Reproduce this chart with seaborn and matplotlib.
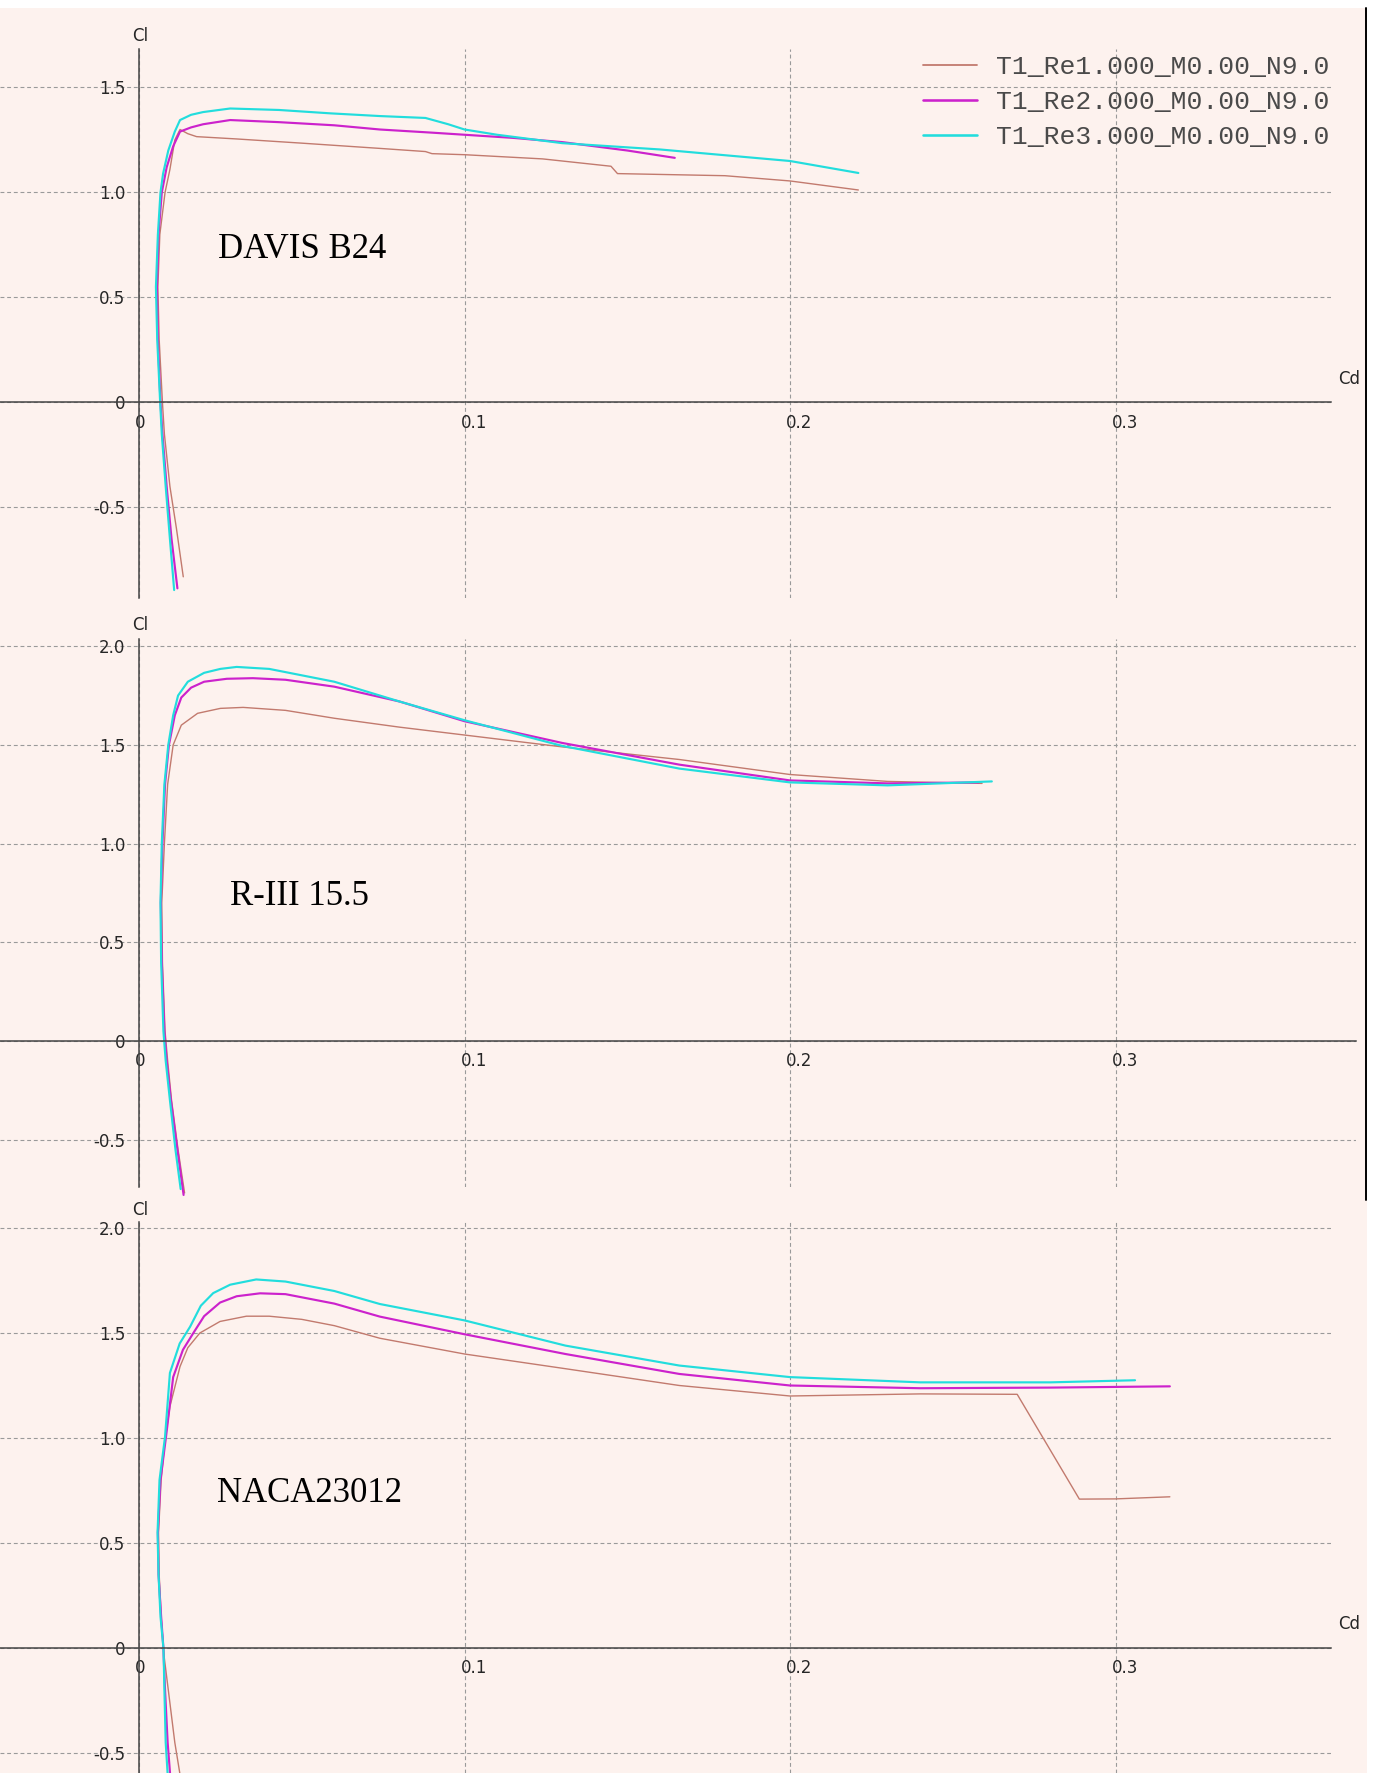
import numpy as np
import pandas as pd
import matplotlib
matplotlib.use('Agg')
import matplotlib.pyplot as plt
import seaborn as sns
from matplotlib.transforms import ScaledTranslation
from matplotlib.lines import Line2D
from matplotlib.patches import Rectangle
from matplotlib.font_manager import FontProperties

# ---------------- data ----------------
series_labels = ['T1_Re1.000_M0.00_N9.0', 'T1_Re2.000_M0.00_N9.0', 'T1_Re3.000_M0.00_N9.0']
series_colors = ['#c27a6e', '#cc22cc', '#22dddd']
airfoil_names = ['DAVIS B24', 'R-III 15.5', 'NACA23012']
cd_ticks = [0, 0.1, 0.2, 0.3]
cd_ticklabels = ['0', '0.1', '0.2', '0.3']
cl_ticks_top = [-0.5, 0, 0.5, 1.0, 1.5]
cl_ticklabels_top = ['-0.5', '0', '0.5', '1.0', '1.5']
cl_ticks = [-0.5, 0, 0.5, 1.0, 1.5, 2.0]
cl_ticklabels = ['-0.5', '0', '0.5', '1.0', '1.5', '2.0']

# DAVIS B24
davis_re1_cd = [0.0136, 0.0115, 0.0095, 0.0078, 0.0072, 0.0062, 0.0058, 0.0064, 0.0080, 0.0095, 0.0110,
                0.0126, 0.0150, 0.0177, 0.030, 0.050, 0.074, 0.088, 0.090, 0.100, 0.124, 0.145, 0.147,
                0.180, 0.200, 0.221]
davis_re1_cl = [-0.83, -0.60, -0.40, -0.15, 0.00, 0.30, 0.55, 0.80, 1.00, 1.11, 1.25,
                1.30, 1.28, 1.266, 1.255, 1.235, 1.21, 1.195, 1.185, 1.18, 1.16, 1.125, 1.09,
                1.08, 1.055, 1.012]
davis_re2_cd = [0.0118, 0.0100, 0.0085, 0.0072, 0.0066, 0.0058, 0.0055, 0.0060, 0.0070, 0.0085, 0.0105,
                0.0126, 0.0160, 0.0197, 0.028, 0.043, 0.060, 0.074, 0.090, 0.100, 0.115, 0.130,
                0.150, 0.1646]
davis_re2_cl = [-0.885, -0.65, -0.40, -0.15, 0.00, 0.30, 0.55, 0.80, 1.00, 1.12, 1.22,
                1.29, 1.31, 1.325, 1.345, 1.335, 1.32, 1.30, 1.285, 1.275, 1.26, 1.24,
                1.20, 1.165]
davis_re3_cd = [0.0108, 0.0095, 0.0082, 0.0070, 0.0065, 0.0056, 0.0052, 0.0058, 0.0066, 0.0074, 0.0090,
                0.0110, 0.0126, 0.0160, 0.0197, 0.028, 0.043, 0.0587, 0.074, 0.088, 0.095, 0.100,
                0.110, 0.130, 0.160, 0.200, 0.221]
davis_re3_cl = [-0.893, -0.65, -0.40, -0.15, 0.00, 0.30, 0.55, 0.80, 1.00, 1.09, 1.20,
                1.29, 1.345, 1.37, 1.383, 1.40, 1.393, 1.377, 1.364, 1.355, 1.325, 1.30,
                1.275, 1.235, 1.205, 1.15, 1.093]

# R-III 15.5
r3_re1_cd = [0.0140, 0.0120, 0.0100, 0.0088, 0.0080, 0.0072, 0.0070, 0.0078, 0.0088, 0.0105, 0.0130,
             0.0180, 0.025, 0.032, 0.045, 0.060, 0.080, 0.100, 0.130, 0.166, 0.200, 0.230, 0.259]
r3_re1_cl = [-0.77, -0.55, -0.30, -0.10, 0.05, 0.40, 0.70, 1.00, 1.30, 1.50, 1.60,
             1.66, 1.685, 1.69, 1.675, 1.635, 1.59, 1.55, 1.49, 1.426, 1.35, 1.315, 1.305]
r3_re2_cd = [0.0137, 0.0118, 0.0098, 0.0085, 0.0078, 0.0070, 0.0067, 0.0072, 0.0080, 0.0092, 0.0110,
             0.0130, 0.0160, 0.020, 0.027, 0.035, 0.045, 0.060, 0.080, 0.100, 0.130, 0.166,
             0.200, 0.230, 0.258]
r3_re2_cl = [-0.78, -0.55, -0.30, -0.10, 0.05, 0.40, 0.70, 1.00, 1.30, 1.50, 1.65,
             1.74, 1.79, 1.82, 1.835, 1.838, 1.83, 1.795, 1.72, 1.62, 1.51, 1.40,
             1.32, 1.305, 1.31]
r3_re3_cd = [0.0128, 0.0112, 0.0095, 0.0082, 0.0075, 0.0068, 0.0066, 0.0070, 0.0078, 0.0090, 0.0105,
             0.0120, 0.0150, 0.020, 0.025, 0.030, 0.040, 0.060, 0.080, 0.100, 0.130, 0.166,
             0.200, 0.230, 0.262]
r3_re3_cl = [-0.75, -0.55, -0.30, -0.10, 0.05, 0.40, 0.70, 1.00, 1.30, 1.50, 1.65,
             1.75, 1.82, 1.865, 1.885, 1.895, 1.885, 1.82, 1.72, 1.625, 1.495, 1.38,
             1.31, 1.295, 1.315]

# NACA23012
naca_re1_cd = [0.0131, 0.0110, 0.0090, 0.0078, 0.0075, 0.0068, 0.0062, 0.0060, 0.0068, 0.0080, 0.0095,
               0.0126, 0.0150, 0.0187, 0.0249, 0.033, 0.040, 0.050, 0.060, 0.074, 0.100, 0.131,
               0.166, 0.200, 0.240, 0.2698, 0.2889, 0.300, 0.3167]
naca_re1_cl = [-0.65, -0.45, -0.20, -0.05, 0.00, 0.15, 0.35, 0.55, 0.80, 0.99, 1.15,
               1.34, 1.43, 1.50, 1.555, 1.58, 1.58, 1.565, 1.535, 1.475, 1.40, 1.33,
               1.25, 1.20, 1.21, 1.208, 0.709, 0.71, 0.72]
naca_re2_cd = [0.0098, 0.0088, 0.0080, 0.0076, 0.0075, 0.0068, 0.0060, 0.0058, 0.0066, 0.0083, 0.0105,
               0.0135, 0.0167, 0.020, 0.0249, 0.030, 0.0372, 0.045, 0.060, 0.074, 0.100, 0.131,
               0.166, 0.200, 0.240, 0.280, 0.3167]
naca_re2_cl = [-0.65, -0.45, -0.20, -0.05, 0.00, 0.15, 0.35, 0.55, 0.80, 1.006, 1.29,
               1.42, 1.50, 1.58, 1.645, 1.675, 1.689, 1.685, 1.64, 1.578, 1.494, 1.40,
               1.305, 1.25, 1.237, 1.24, 1.246]
naca_re3_cd = [0.0090, 0.0082, 0.0078, 0.0076, 0.0075, 0.0066, 0.0060, 0.0057, 0.0063, 0.0080, 0.0095,
               0.0125, 0.0157, 0.019, 0.0228, 0.028, 0.036, 0.045, 0.060, 0.074, 0.100, 0.131,
               0.166, 0.200, 0.240, 0.280, 0.306]
naca_re3_cl = [-0.65, -0.45, -0.20, -0.05, 0.00, 0.15, 0.35, 0.55, 0.80, 1.006, 1.31,
               1.45, 1.53, 1.63, 1.69, 1.73, 1.755, 1.745, 1.70, 1.638, 1.56, 1.44,
               1.345, 1.29, 1.265, 1.265, 1.275]

panel_data = [
    [(davis_re1_cd, davis_re1_cl), (davis_re2_cd, davis_re2_cl), (davis_re3_cd, davis_re3_cl)],
    [(r3_re1_cd, r3_re1_cl), (r3_re2_cd, r3_re2_cl), (r3_re3_cd, r3_re3_cl)],
    [(naca_re1_cd, naca_re1_cl), (naca_re2_cd, naca_re2_cl), (naca_re3_cd, naca_re3_cl)],
]

# ---------------- styling / layout ----------------
sns.set_theme(style='white')
plt.rcParams['font.family'] = ['DejaVu Sans']

W, H = 1378, 1773
BG = '#fdf2ee'
AX_COL = '#444444'
TXT_COL = '#262626'
GRID_COL = '#9a9a9a'
series_widths = [1.0, 1.55, 1.55]

fig = plt.figure(figsize=(W / 100, H / 100), dpi=100)
fig.patch.set_facecolor(BG)

X0_PX = 139.0
PX_PER_CD = 3255.0

# (top_px, bottom_px, right_px, zero_px, px_per_cl)
panel_geom = [
    (49, 598, 1331, 402.5, 210.0),
    (639, 1187, 1356, 1041.0, 197.4),
    (1222, 1773, 1331, 1648.0, 210.0),
]
panel_yticks = [(cl_ticks_top, cl_ticklabels_top), (cl_ticks, cl_ticklabels), (cl_ticks, cl_ticklabels)]
name_pos = [(302, 249), (299, 896), (309, 1493)]
cl_label_pos = [(140, 36), (140, 625), (140, 1210)]
cd_label_pos = [(1349, 379), None, (1349, 1624)]


def fx(px):
    return px / W


def fy(py):
    return 1 - py / H


axes = []
for p, (top, bot, right, zero, ppc) in enumerate(panel_geom):
    ax = fig.add_axes([0, fy(bot), right / W, (bot - top) / H])
    ax.set_facecolor('none')
    ax.set_xlim(-X0_PX / PX_PER_CD, (right - X0_PX) / PX_PER_CD)
    ax.set_ylim((zero - bot) / ppc, (zero - top) / ppc)

    for s in ['top', 'right']:
        ax.spines[s].set_visible(False)
    ax.spines['left'].set_position(('data', 0))
    ax.spines['bottom'].set_position(('data', 0))
    for s in ['left', 'bottom']:
        ax.spines[s].set_color(AX_COL)
        ax.spines[s].set_linewidth(1.1)
        ax.spines[s].set_zorder(3)

    ax.set_xticks(cd_ticks)
    ax.set_xticklabels(cd_ticklabels)
    yt, ytl = panel_yticks[p]
    ax.set_yticks(yt)
    ax.set_yticklabels(ytl)
    ax.tick_params(axis='x', direction='out', length=5, width=1, color=AX_COL,
                   labelsize=12, labelcolor=TXT_COL, pad=3)
    ax.tick_params(axis='y', direction='out', length=5, width=1, color=AX_COL,
                   labelsize=12, labelcolor=TXT_COL, pad=5)
    for lab in ax.get_xticklabels():
        lab.set_ha('left')
        lab.set_transform(lab.get_transform() + ScaledTranslation(-4 / 100, 0, fig.dpi_scale_trans))

    ax.grid(True, color=GRID_COL, lw=0.8, linestyle=(0, (3.5, 2.5)))
    ax.set_axisbelow(True)

    for i, (cd, cl) in enumerate(panel_data[p]):
        df = pd.DataFrame({'Cd': cd, 'Cl': cl})
        sns.lineplot(data=df, x='Cd', y='Cl', sort=False, estimator=None,
                     color=series_colors[i], lw=series_widths[i], ax=ax, clip_on=False)
    ax.set_xlabel('')
    ax.set_ylabel('')

    fig.text(fx(name_pos[p][0]), fy(name_pos[p][1]), airfoil_names[p],
             family='Liberation Serif', fontsize=25, color='black', ha='center', va='center')
    fig.text(fx(cl_label_pos[p][0]), fy(cl_label_pos[p][1]), 'Cl',
             fontsize=12, color=TXT_COL, ha='center', va='center')
    if cd_label_pos[p] is not None:
        fig.text(fx(cd_label_pos[p][0]), fy(cd_label_pos[p][1]), 'Cd',
                 fontsize=12, color=TXT_COL, ha='center', va='center')
    axes.append(ax)

# legend (top panel)
handles = [Line2D([], [], color=series_colors[i], lw=series_widths[i] + 0.3) for i in range(3)]
leg = axes[0].legend(handles, series_labels, loc='upper left',
                     bbox_to_anchor=(fx(923), fy(55)), bbox_transform=fig.transFigure,
                     frameon=False, prop=FontProperties(family='Liberation Mono', size=19),
                     handlelength=2.05, handletextpad=0.72, labelspacing=0.42,
                     borderpad=0, borderaxespad=0, labelcolor='#4a4a4a')

# screenshot borders
fig.add_artist(Rectangle((0, fy(8)), 1, 8 / H, transform=fig.transFigure,
                         facecolor='white', edgecolor='none', zorder=10))
fig.add_artist(Rectangle((fx(1367), 0), 1, 1, transform=fig.transFigure,
                         facecolor='white', edgecolor='none', zorder=10))
fig.add_artist(Line2D([fx(1366), fx(1366)], [fy(8), fy(1200)], transform=fig.transFigure,
                      color='black', lw=1.4, zorder=11))

fig.savefig('out.png', dpi=100, facecolor=fig.get_facecolor())
